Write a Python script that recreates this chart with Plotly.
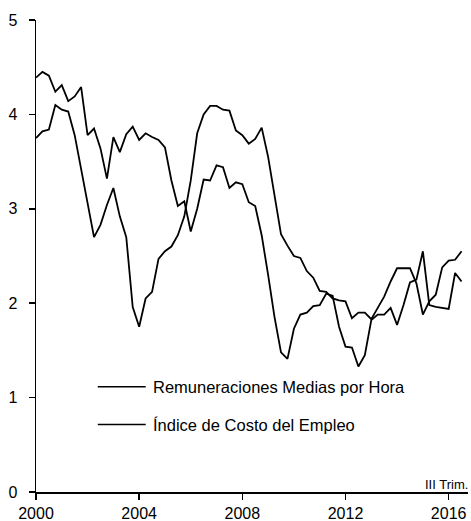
import plotly.graph_objects as go

# Quarterly data, 2000 Q1 - 2016 Q3
start_year = 2000
remuneraciones = [4.39, 4.45, 4.41, 4.24, 4.31, 4.14, 4.19, 4.29, 3.78, 3.85,
                  3.64, 3.32, 3.76, 3.60, 3.79, 3.87, 3.73, 3.80, 3.76, 3.73,
                  3.65, 3.30, 3.03, 3.08, 2.76, 3.00, 3.31, 3.30, 3.46, 3.44,
                  3.22, 3.28, 3.26, 3.07, 3.03, 2.72, 2.30, 1.85, 1.48, 1.41,
                  1.73, 1.88, 1.90, 1.97, 1.98, 2.10, 2.08, 1.75, 1.54, 1.53,
                  1.33, 1.45, 1.82, 1.88, 1.88, 1.95, 1.77, 1.98, 2.22, 2.25,
                  2.55, 1.98, 1.96, 1.95, 1.94, 2.32, 2.23]
indice_costo = [3.75, 3.82, 3.84, 4.10, 4.05, 4.03, 3.78, 3.42, 3.10, 2.70,
                2.83, 3.04, 3.22, 2.92, 2.70, 1.96, 1.75, 2.05, 2.12, 2.47,
                2.55, 2.60, 2.72, 2.92, 3.30, 3.80, 4.00, 4.09, 4.09, 4.05,
                4.04, 3.83, 3.78, 3.69, 3.74, 3.86, 3.55, 3.12, 2.73, 2.61,
                2.50, 2.48, 2.34, 2.27, 2.13, 2.12, 2.05, 2.03, 2.02, 1.84,
                1.90, 1.90, 1.83, 1.95, 2.07, 2.23, 2.37, 2.37, 2.37, 2.21,
                1.88, 2.02, 2.09, 2.38, 2.45, 2.46, 2.55]
x_tick_vals = [2000, 2004, 2008, 2012, 2016]
y_tick_vals = [0, 1, 2, 3, 4, 5]
series_names = ["Remuneraciones Medias por Hora", "Índice de Costo del Empleo"]
note_text = "III Trim."

t = [start_year + i * 0.25 for i in range(len(remuneraciones))]

FONT = "Liberation Sans, Arial, sans-serif"
fig = go.Figure()
for name, vals in zip(series_names, [remuneraciones, indice_costo]):
    fig.add_trace(go.Scatter(x=t, y=vals, mode="lines", name=name,
                             line=dict(color="black", width=1.8),
                             showlegend=False))

# manual legend (line samples + labels)
leg_y = [0.223, 0.143]
for name, yy in zip(series_names, leg_y):
    fig.add_shape(type="line", xref="paper", yref="paper",
                  x0=0.143, x1=0.254, y0=yy, y1=yy,
                  line=dict(color="black", width=1.6))
    fig.add_annotation(xref="paper", yref="paper", x=0.266, y=yy,
                       text=name, showarrow=False, xanchor="left",
                       yanchor="middle", font=dict(size=16.5, color="black", family=FONT))

fig.add_annotation(xref="paper", yref="paper", x=1.0, y=0.0, text=note_text,
                   showarrow=False, xanchor="right", yanchor="bottom",
                   xshift=2, yshift=-2, font=dict(size=13, color="black", family=FONT))

fig.update_layout(
    width=471, height=521,
    margin=dict(l=36, r=3, t=20, b=29),
    plot_bgcolor="white", paper_bgcolor="white",
    font=dict(family=FONT, size=16, color="black"),
)
fig.update_xaxes(range=[2000, 2016.75], tickvals=x_tick_vals,
                 ticktext=[str(v) for v in x_tick_vals],
                 showgrid=False, zeroline=False, showline=True,
                 linecolor="black", linewidth=2, ticks="outside",
                 ticklen=6, tickcolor="black", tickwidth=1.5,
                 ticklabelstandoff=0, automargin=False,
                 tickfont=dict(size=16))
fig.update_yaxes(range=[0, 5], tickvals=y_tick_vals,
                 showgrid=False, zeroline=False, showline=True,
                 linecolor="black", linewidth=1.5, ticks="outside",
                 ticklen=6, tickcolor="black", tickwidth=1.5,
                 ticklabelstandoff=8, automargin=False)

fig.write_html("out.html",
               config={"displayModeBar": False, "staticPlot": True},
               post_script="document.body.style.margin='0';document.body.style.overflow='hidden';")
